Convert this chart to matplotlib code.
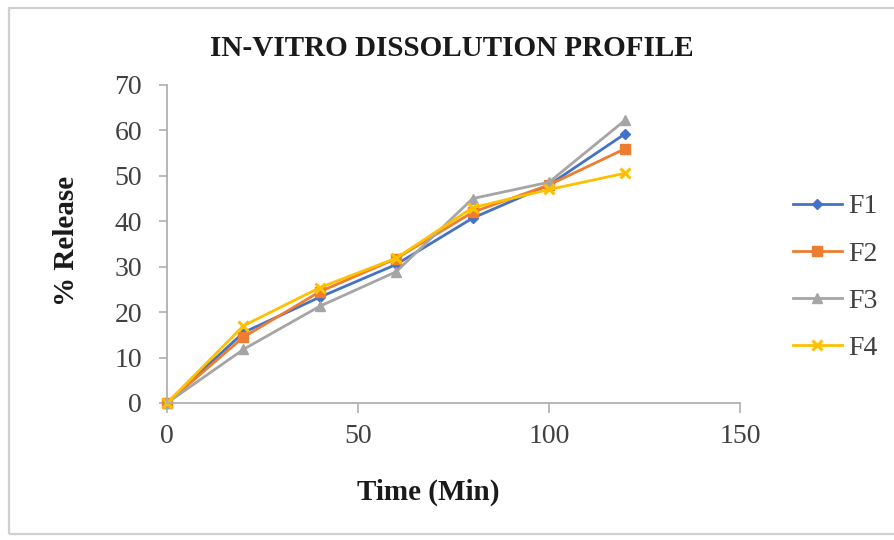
import matplotlib
matplotlib.use("Agg")
import matplotlib.pyplot as plt
from matplotlib.patches import Rectangle

# Dissolution data: sampling times (min) and cumulative % release per formulation
time_min = [0, 20, 40, 60, 80, 100, 120]
f1 = [0, 15.5, 23.3, 30.5, 40.7, 48.0, 59.3]
f2 = [0, 14.5, 24.5, 31.8, 42.0, 48.0, 56.0]
f3 = [0, 11.8, 21.3, 28.9, 45.0, 48.6, 62.3]
f4 = [0, 17.0, 25.4, 31.9, 43.0, 47.0, 50.6]
series_names = ["F1", "F2", "F3", "F4"]

x_ticks = [0, 50, 100, 150]
y_ticks = [0, 10, 20, 30, 40, 50, 60, 70]

plt.rcParams['font.family'] = ['Liberation Serif', 'DejaVu Serif']

W, H = 894, 540
fig = plt.figure(figsize=(W / 100, H / 100), dpi=100)
fig.patch.set_facecolor("white")

# light frame around the chart area
fig.patches.append(Rectangle((9 / W, 1 - 534 / H), 1.0, (534 - 8) / H,
                             transform=fig.transFigure, fill=False,
                             edgecolor="#d0d0d0", linewidth=1.6, zorder=0))

ax = fig.add_axes([167 / W, 1 - 403 / H, (740 - 167) / W, (403 - 85) / H])

styles = [
    dict(color="#4472C4", marker="D", markersize=5.5),
    dict(color="#ED7D31", marker="s", markersize=6.5),
    dict(color="#A5A5A5", marker="^", markersize=7),
    dict(color="#FFC000", marker="x", markersize=7, markeredgewidth=2.2),
]
for vals, name, st in zip([f1, f2, f3, f4], series_names, styles):
    ax.plot(time_min, vals, label=name, linewidth=2.0, clip_on=False, **st)

ax.set_xlim(0, 150)
ax.set_ylim(0, 70)
ax.set_xticks(x_ticks)
ax.set_yticks(y_ticks)

for s in ["top", "right"]:
    ax.spines[s].set_visible(False)
for s in ["left", "bottom"]:
    ax.spines[s].set_color("#b0b0b0")
    ax.spines[s].set_linewidth(1.3)

ax.tick_params(axis="both", colors="#b0b0b0", labelcolor="#404040",
               labelsize=20, width=1.2)
ax.tick_params(axis="y", length=6, pad=12)
ax.tick_params(axis="x", length=7, pad=8)

fig.text(452 / W, 1 - 48 / H, "IN-VITRO DISSOLUTION PROFILE",
         ha="center", va="center", fontsize=21, fontweight="bold", color="#1a1a1a")
fig.text(66 / W, 1 - 241 / H, "% Release", rotation=90,
         ha="center", va="center", fontsize=21, fontweight="bold", color="#1a1a1a")
fig.text(428 / W, 1 - 492 / H, "Time (Min)",
         ha="center", va="center", fontsize=21, fontweight="bold", color="#1a1a1a")

ax.legend(loc="upper left", bbox_to_anchor=(793 / W, 1 - 194 / H),
          bbox_transform=fig.transFigure, frameon=False, fontsize=20,
          handlelength=1.75, handletextpad=0.25, labelspacing=0.78,
          borderpad=0, borderaxespad=0, labelcolor="#404040")

fig.savefig("out.png", dpi=100, facecolor="white")
